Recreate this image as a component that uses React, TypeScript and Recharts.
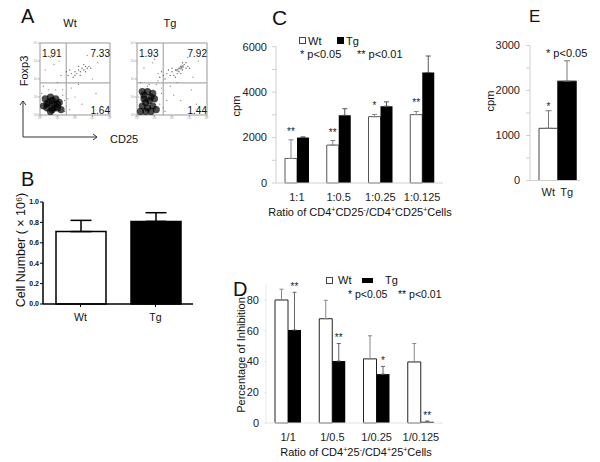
import React from "react";
import {
  BarChart,
  Bar,
  XAxis,
  YAxis,
  ErrorBar,
  LabelList,
  Cell,
  ScatterChart,
  Scatter,
  ReferenceLine,
  ReferenceArea,
} from "recharts";

const font = "'Liberation Sans', Arial, Helvetica, sans-serif";

// A: Foxp3 / CD25 dot plots, coordinates in log decades (10^0 .. 10^4)
const decadeTicks = [0, 1, 2, 3, 4];
const quadX = 1.5;
const quadY = 1.78;
const wtQuadrants = ["1.91", "7.33", "1.64"];
const tgQuadrants = ["1.93", "7.92", "1.44"];

const wtCore = [
  [0.4, 0.4], [0.7, 0.3], [1.0, 0.4], [0.5, 0.7], [0.8, 0.6], [1.1, 0.7],
  [0.3, 0.9], [0.6, 1.0], [0.9, 0.9], [0.2, 0.5], [0.6, 0.2], [1.2, 0.3],
  [0.4, 0.6], [0.8, 0.4], [0.7, 0.8], [1.0, 0.6],
];
const wtCloud = [
  [1.6, 2.2], [1.8, 2.3], [1.9, 2.1], [2.0, 2.4], [2.1, 2.3], [2.2, 2.5], [2.3, 2.4],
  [2.4, 2.6], [2.5, 2.5], [2.6, 2.7], [2.7, 2.6], [2.8, 2.7], [2.3, 2.2], [2.0, 2.2],
  [1.7, 2.5], [2.5, 2.8], [2.6, 2.4], [2.2, 2.7], [1.5, 2.4], [2.9, 2.6],
];
const wtSparse = [
  [0.3, 2.5], [0.6, 3.2], [1.0, 1.8], [1.3, 1.4], [2.4, 0.6], [3.2, 1.2], [2.0, 1.0],
  [0.8, 2.8], [1.4, 0.2], [1.6, 0.9], [3.0, 2.0], [2.7, 3.3], [0.2, 1.6], [1.2, 2.2],
  [3.5, 0.5], [1.8, 1.5], [0.5, 1.4], [2.2, 1.7], [1.1, 3.0], [3.3, 2.9],
  [1.4, 0.8], [1.3, 1.1], [0.1, 1.2], [1.5, 0.5], [0.9, 1.4], [1.7, 0.3],
];
const tgCore = [
  [0.3, 0.5], [0.6, 0.4], [0.9, 0.5], [0.4, 0.9], [0.7, 0.8], [1.0, 0.9], [0.3, 1.3],
  [0.6, 1.3], [0.9, 1.2], [0.2, 0.2], [0.5, 0.2], [0.8, 0.2], [1.1, 0.3],
  [0.5, 0.7], [0.8, 1.0], [0.4, 1.1],
];
const tgCloud = [
  [1.3, 2.1], [1.5, 2.2], [1.7, 2.3], [1.9, 2.2], [2.0, 2.4], [2.2, 2.5], [2.3, 2.3],
  [2.4, 2.6], [2.5, 2.7], [2.6, 2.5], [2.7, 2.8], [2.8, 2.6], [2.9, 2.7], [2.1, 2.2],
  [1.8, 2.5], [2.4, 2.4], [2.6, 2.9], [2.2, 2.1], [1.6, 2.0], [2.8, 2.9], [3.0, 2.6],
  [2.5, 2.3], [2.0, 2.6], [1.4, 2.4],
];
const tgCloudCore = [[2.3, 2.5], [2.6, 2.7], [2.5, 2.6]];
const tgSparse = [
  [0.4, 2.6], [0.7, 3.4], [1.1, 1.7], [1.4, 1.2], [2.5, 0.8], [3.1, 1.4], [2.1, 1.1],
  [0.9, 2.9], [1.5, 0.4], [1.7, 0.8], [3.2, 2.1], [2.9, 3.2], [0.2, 1.8], [1.2, 2.3],
  [3.4, 0.6], [1.9, 1.6], [0.6, 1.6], [2.3, 1.8], [1.0, 3.1], [3.5, 3.0],
  [1.3, 0.6], [1.4, 1.5], [0.1, 1.0], [1.6, 0.2], [1.2, 1.9], [0.7, 1.7],
];

// B: Treg cell number (x10^6)
const bGroups = ["Wt", "Tg"];
const bValues = [0.71, 0.81];
const bErrors = [0.11, 0.085];

// C: proliferation (cpm)
const cRatios = ["1:1", "1:0.5", "1:0.25", "1:0.125"];
const cWt = [1080, 1670, 2920, 3010];
const cWtErr = [820, 200, 100, 140];
const cTg = [2000, 2980, 3380, 4860];
const cTgErr = [30, 290, 190, 730];
const cStars = ["**", "**", "*", "**"];

// D: percentage of inhibition
const dRatios = ["1/1", "1/0.5", "1/0.25", "1/0.125"];
const dWt = [80, 67.8, 41.7, 39.7];
const dWtErr = [7, 12, 15, 12];
const dTg = [60.5, 40.3, 31.8, 0.8];
const dTgErr = [24.5, 11.4, 5, 0.5];
const dStars = ["**", "**", "*", "**"];

// E: cpm
const eGroups = ["Wt", "Tg"];
const eValues = [1160, 2210];
const eErrors = [390, 450];
const eStars = ["*", ""];

// axis titles with superscripts: [text, superscript]
const cTitle = [["Ratio of CD4", "+"], ["CD25", "-"], ["/CD4", "+"], ["CD25", "+"], ["Cells", ""]];
const dTitle = [["Ratio of CD4", "+"], ["25", "-"], ["/CD4", "+"], ["25", "+"], ["Cells", ""]];

const toPts = (a: number[][]) => a.map(([x, y]) => ({ x, y }));
const supDigits = ["\u2070", "\u00b9", "\u00b2", "\u00b3", "\u2074"];

const dot = (r: number, fill: string, op: number) => (p: any) =>
  <circle cx={p.cx} cy={p.cy} r={r} fill={fill} fillOpacity={op} />;

const starLabel = (stars: string[], vals: number[], errs: number[], lift: number) => (p: any) => {
  const i = p.index;
  const s = stars[i];
  if (!s) return null;
  const vb = p.viewBox && p.viewBox.width != null ? p.viewBox : p;
  const x = Number(vb.x), y = Number(vb.y), w = Number(vb.width), h = Number(vb.height);
  const top = h >= 0 ? y : y + h;
  const errPx = vals[i] ? (Math.abs(h) / vals[i]) * errs[i] : 0;
  return (
    <text key={i} x={x + w / 2} y={top - errPx - lift} textAnchor="middle" fontSize={10} fill="#222">
      {s}
    </text>
  );
};

const supParts = (parts: string[][]) =>
  parts.flatMap(([t, s], i) => [
    <tspan key={"t" + i} dy={i ? 4 : 0}>{t}</tspan>,
    s ? <tspan key={"s" + i} dy={-4} fontSize={7}>{s}</tspan> : null,
  ]);

function FlowPlot({ left, core, cloud, cloudCore, sparse }: any) {
  return (
    <div style={{ position: "absolute", left, top: 38 }}>
      <ScatterChart width={87} height={87} margin={{ top: 5, right: 5, bottom: 2, left: 4 }}>
        <XAxis type="number" dataKey="x" domain={[0, 4]} ticks={decadeTicks} height={8} tickSize={2}
          tickMargin={0} axisLine={false} tickLine={{ stroke: "#aaa" }}
          tick={{ fontSize: 3, fill: "#999" }} tickFormatter={(v: number) => "10" + supDigits[v]} />
        <YAxis type="number" dataKey="y" domain={[0, 4]} ticks={decadeTicks} width={8} tickSize={2}
          tickMargin={0} axisLine={false} tickLine={{ stroke: "#aaa" }}
          tick={{ fontSize: 3, fill: "#999" }} tickFormatter={(v: number) => "10" + supDigits[v]} />
        <ReferenceArea x1={0} x2={4} y1={0} y2={4} fill="none" stroke="#999" strokeWidth={1} fillOpacity={0} />
        <ReferenceLine x={quadX} stroke="#aaa" strokeWidth={1.2} />
        <ReferenceLine y={quadY} stroke="#aaa" strokeWidth={1.2} />
        <Scatter data={toPts(sparse)} isAnimationActive={false} shape={dot(0.6, "#777", 1)} />
        <Scatter data={toPts(cloud)} isAnimationActive={false} shape={dot(0.7, "#666", 1)} />
        {cloudCore && <Scatter data={toPts(cloudCore)} isAnimationActive={false} shape={dot(1.6, "#555", 0.5)} />}
        <Scatter data={toPts(core)} isAnimationActive={false} shape={dot(3.6, "#000", 0.7)} />
      </ScatterChart>
    </div>
  );
}

const bData = bGroups.map((g, i) => ({ g, v: bValues[i], err: [0, bErrors[i]] }));
const cData = cRatios.map((r, i) => ({ r, wt: cWt[i], wtErr: [0, cWtErr[i]], tg: cTg[i], tgErr: [0, cTgErr[i]] }));
const dData = dRatios.map((r, i) => ({ r, wt: dWt[i], wtErr: [0, dWtErr[i]], tg: dTg[i], tgErr: [0, dTgErr[i]] }));
const eData = eGroups.map((g, i) => ({ g, v: eValues[i], err: [0, eErrors[i]] }));

const grayAxis = { stroke: "#cfcfcf" };

export default function App() {
  return (
    <div style={{ position: "absolute", left: 0, top: 0, width: 600, height: 462, background: "#fff", fontFamily: font, overflow: "hidden" }}>
      <FlowPlot left={28} core={wtCore} cloud={wtCloud} sparse={wtSparse} />
      <FlowPlot left={125} core={tgCore} cloud={tgCloud} cloudCore={tgCloudCore} sparse={tgSparse} />

      {/* B */}
      <div style={{ position: "absolute", left: 0, top: 160 }}>
        <BarChart width={200} height={170} data={bData} margin={{ top: 42, right: 7, bottom: 6, left: 13 }}>
          <XAxis dataKey="g" height={20} tickSize={3} tickMargin={7} axisLine={{ stroke: "#000", strokeWidth: 1.5 }}
            tickLine={{ stroke: "#000" }} tick={{ fontSize: 10.5, fill: "#111" }} />
          <YAxis domain={[0, 1]} ticks={[0, 0.2, 0.4, 0.6, 0.8, 1.0]} width={30} tickSize={3} tickMargin={1}
            axisLine={{ stroke: "#000", strokeWidth: 1.5 }} tickLine={{ stroke: "#000" }}
            tick={{ fontSize: 7, fontWeight: 700, fill: "#111" }} tickFormatter={(v: number) => v.toFixed(1)} />
          <Bar dataKey="v" barSize={50} stroke="#000" strokeWidth={1.5} isAnimationActive={false}>
            {bData.map((d, i) => <Cell key={d.g} fill={i === 0 ? "#fff" : "#000"} />)}
            <ErrorBar dataKey="err" width={10.5} stroke="#000" strokeWidth={1.5} direction="y" />
          </Bar>
        </BarChart>
      </div>

      {/* C */}
      <div style={{ position: "absolute", left: 200, top: 0 }}>
        <BarChart width={260} height={230} data={cData} barGap={0} margin={{ top: 46.7, right: 17, bottom: 17, left: 46 }}>
          <XAxis dataKey="r" height={30} tickLine={false} tickSize={0} tickMargin={10} axisLine={grayAxis}
            tick={{ fontSize: 11, fill: "#222" }} />
          <YAxis domain={[0, 6000]} ticks={[0, 1000, 2000, 3000, 4000, 5000, 6000]} width={30} tickSize={4}
            tickMargin={5} axisLine={grayAxis} tickLine={grayAxis} tick={{ fontSize: 11, fill: "#222" }}
            tickFormatter={(v: number) => (v % 2000 === 0 ? String(v) : "")} />
          <Bar dataKey="wt" barSize={12} fill="#fff" stroke="#555" strokeWidth={1} isAnimationActive={false}>
            <ErrorBar dataKey="wtErr" width={2.5} stroke="#888" strokeWidth={1} direction="y" />
            <LabelList content={starLabel(cStars, cWt, cWtErr, 5)} />
          </Bar>
          <Bar dataKey="tg" barSize={12} fill="#000" isAnimationActive={false}>
            <ErrorBar dataKey="tgErr" width={2.5} stroke="#555" strokeWidth={1} direction="y" />
          </Bar>
        </BarChart>
      </div>

      {/* D */}
      <div style={{ position: "absolute", left: 200, top: 270 }}>
        <BarChart width={260} height={192} data={dData} barGap={0} margin={{ top: 14.6, right: 17, bottom: 14, left: 36 }}>
          <XAxis dataKey="r" height={25} tickLine={false} tickSize={0} tickMargin={10} axisLine={{ stroke: "#e2e2e2" }}
            tick={{ fontSize: 11, fill: "#222" }} />
          <YAxis domain={[0, 90]} ticks={[0, 20, 40, 60, 80]} width={30} tickSize={2} tickMargin={5}
            axisLine={{ stroke: "#e8e8e8" }} tickLine={{ stroke: "#e8e8e8" }} tick={{ fontSize: 11, fill: "#222" }} />
          <Bar dataKey="wt" barSize={13} fill="#fff" stroke="#222" strokeWidth={1} isAnimationActive={false}>
            <ErrorBar dataKey="wtErr" width={2} stroke="#888" strokeWidth={1} direction="y" />
          </Bar>
          <Bar dataKey="tg" barSize={13} fill="#000" isAnimationActive={false}>
            <ErrorBar dataKey="tgErr" width={2} stroke="#666" strokeWidth={1} direction="y" />
            <LabelList content={starLabel(dStars, dTg, dTgErr, 2)} />
          </Bar>
        </BarChart>
      </div>

      {/* E */}
      <div style={{ position: "absolute", left: 440, top: 0 }}>
        <BarChart width={160} height={210} data={eData} barCategoryGap={0} margin={{ top: 45.5, right: 20, bottom: 9.5, left: 60 }}>
          <XAxis dataKey="g" height={20} padding={{ left: 9, right: 4 }} tickLine={false} tickSize={0} tickMargin={8}
            axisLine={grayAxis} tick={{ fontSize: 11, fill: "#222" }} />
          <YAxis domain={[0, 3000]} ticks={[0, 500, 1000, 1500, 2000, 2500, 3000]} width={30} tickSize={4}
            tickMargin={6} axisLine={grayAxis} tickLine={grayAxis} tick={{ fontSize: 11, fill: "#222" }}
            tickFormatter={(v: number) => (v % 1000 === 0 ? String(v) : "")} />
          <Bar dataKey="v" stroke="#444" strokeWidth={1} isAnimationActive={false}>
            {eData.map((d, i) => <Cell key={d.g} fill={i === 0 ? "#fff" : "#000"} />)}
            <ErrorBar dataKey="err" width={3} stroke="#777" strokeWidth={1} direction="y" />
            <LabelList content={starLabel(eStars, eValues, eErrors, 1)} />
          </Bar>
        </BarChart>
      </div>

      {/* labels, legends, panel letters */}
      <svg width={600} height={462} style={{ position: "absolute", left: 0, top: 0, pointerEvents: "none" }}
        fontFamily={font} fill="#111">
        <text x={21} y={23} fontSize={20}>A</text>
        <text x={21} y={186} fontSize={20}>B</text>
        <text x={272} y={25} fontSize={21}>C</text>
        <text x={233} y={296} fontSize={20}>D</text>
        <text x={529} y={22} fontSize={17}>E</text>

        {/* A */}
        <text x={70} y={27} fontSize={11} textAnchor="middle">Wt</text>
        <text x={170} y={27} fontSize={11} textAnchor="middle">Tg</text>
        <text x={42} y={57} fontSize={10}>{wtQuadrants[0]}</text>
        <text x={110} y={57} fontSize={10} textAnchor="end">{wtQuadrants[1]}</text>
        <text x={110} y={114} fontSize={10} textAnchor="end">{wtQuadrants[2]}</text>
        <text x={139} y={57} fontSize={10}>{tgQuadrants[0]}</text>
        <text x={207} y={57} fontSize={10} textAnchor="end">{tgQuadrants[1]}</text>
        <text x={207} y={114} fontSize={10} textAnchor="end">{tgQuadrants[2]}</text>
        <text transform="translate(28,71) rotate(-90)" fontSize={11} textAnchor="middle">Foxp3</text>
        <g stroke="#333" strokeWidth={1} fill="none">
          <line x1={23} y1={137} x2={23} y2={101} />
          <polyline points="20,105 23,101 26,105" />
          <line x1={23} y1={137} x2={97} y2={137} />
          <polyline points="93,134 97,137 93,140" />
        </g>
        <text x={110} y={143} fontSize={11}>CD25</text>

        {/* B */}
        <text transform="translate(25,250) rotate(-90)" fontSize={12.5} textAnchor="middle">
          Cell Number ( × 10⁶)
        </text>

        {/* C */}
        <rect x={299.5} y={37.5} width={6} height={6} fill="#fff" stroke="#444" />
        <text x={308} y={45} fontSize={11}>Wt</text>
        <rect x={337} y={37} width={7} height={7} fill="#000" />
        <text x={346} y={45} fontSize={11}>Tg</text>
        <text x={300} y={58} fontSize={11}>* p&lt;0.05</text>
        <text x={357} y={58} fontSize={11}>** p&lt;0.01</text>
        <text transform="translate(240,106) rotate(-90)" fontSize={11} textAnchor="middle">cpm</text>
        <text x={360} y={216} fontSize={11} textAnchor="middle">{supParts(cTitle)}</text>

        {/* D */}
        <rect x={326.5} y={277.5} width={6} height={6} fill="#fff" stroke="#444" />
        <text x={338} y={284} fontSize={11}>Wt</text>
        <rect x={362} y={278} width={11} height={5} fill="#000" />
        <text x={385} y={284} fontSize={11}>Tg</text>
        <text x={348} y={298} fontSize={10.5}>* p&lt;0.05</text>
        <text x={398} y={298} fontSize={10.5}>** p&lt;0.01</text>
        <text transform="translate(245,355) rotate(-90)" fontSize={11} textAnchor="middle">Percentage of Inhibition</text>
        <text x={356} y={456} fontSize={11} textAnchor="middle">{supParts(dTitle)}</text>

        {/* E */}
        <text x={546} y={57} fontSize={11}>* p&lt;0.05</text>
        <text transform="translate(494,101) rotate(-90)" fontSize={11} textAnchor="middle">cpm</text>
      </svg>
    </div>
  );
}
